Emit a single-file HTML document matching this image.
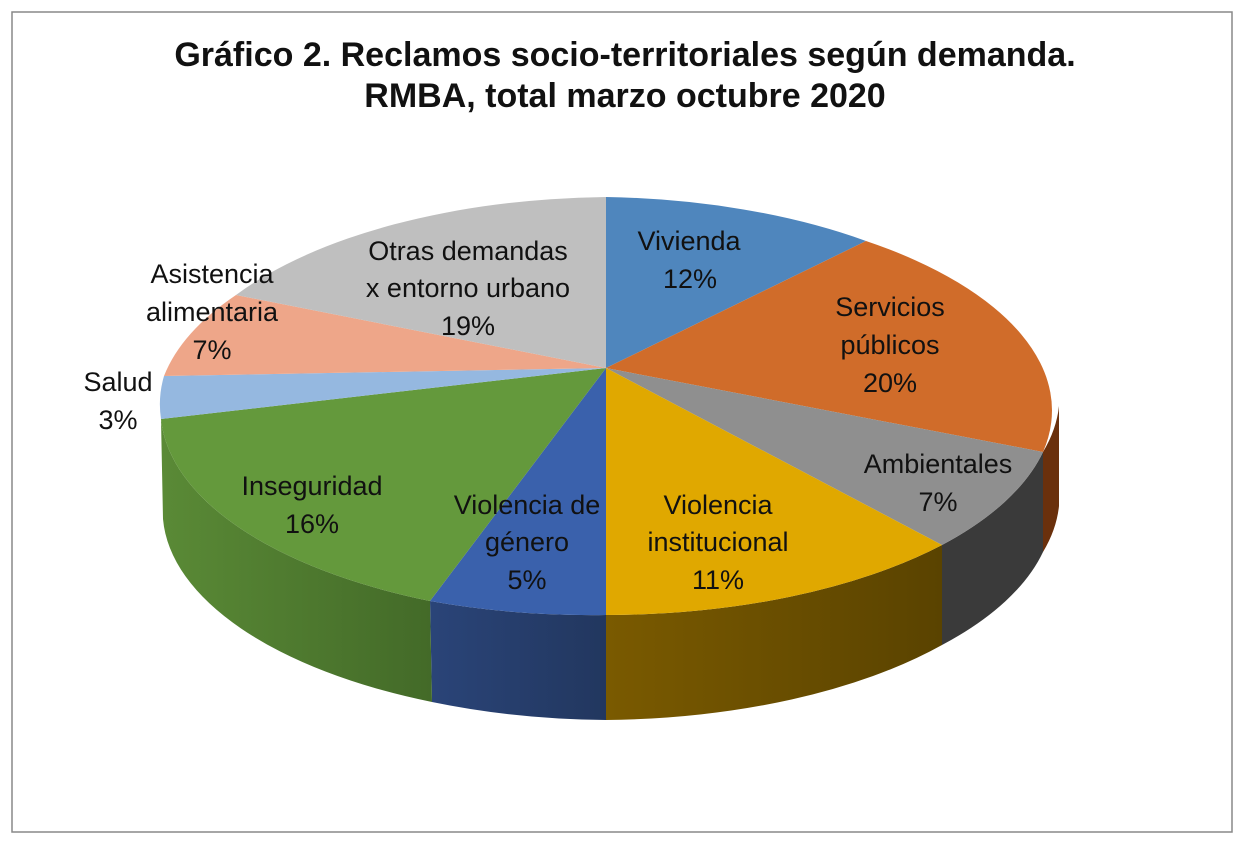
<!DOCTYPE html>
<html><head><meta charset="utf-8"><style>
body{margin:0;background:#fff;}
svg text{font-family:"Liberation Sans Narrow","Liberation Sans",sans-serif;font-size:27px;fill:#111;text-anchor:middle;}
svg text.t{font-family:"Liberation Sans",sans-serif;font-weight:bold;font-size:34px;}
</style></head><body>
<svg width="1244" height="844" viewBox="0 0 1244 844" xmlns="http://www.w3.org/2000/svg">
<defs>
<linearGradient id="gG" x1="0" x2="1"><stop offset="0" stop-color="#5a8a36"/><stop offset="1" stop-color="#436a28"/></linearGradient>
<linearGradient id="gY" x1="0" x2="1"><stop offset="0" stop-color="#7a5a00"/><stop offset="1" stop-color="#5a4300"/></linearGradient>
<linearGradient id="gB" x1="0" x2="1"><stop offset="0" stop-color="#2a4478"/><stop offset="1" stop-color="#22375f"/></linearGradient>
</defs>
<rect x="12" y="12" width="1220" height="820" fill="#fff" stroke="#888" stroke-width="1.5"/>
<text class="t" x="625" y="66">Gráfico 2. Reclamos socio-territoriales según demanda.</text>
<text class="t" x="625" y="107">RMBA, total marzo octubre 2020</text>
<!-- sides -->
<path d="M1059,406 A449 209 0 0 1 1043,452 L1043,552 A449 209 0 0 0 1059,506 Z" fill="#6a300c"/>
<path d="M1043,452 A449 209 0 0 1 942,545 L942,645 A449 209 0 0 0 1043,552 Z" fill="#3a3a3a"/>
<path d="M942,545 A449 209 0 0 1 606,615 L606,720 A449 209 0 0 0 942,645 Z" fill="url(#gY)"/>
<path d="M606,615 A449 209 0 0 1 430,601 L432,702 A449 209 0 0 0 606,720 Z" fill="url(#gB)"/>
<path d="M430,601 A449 209 0 0 1 161,419 L163,519 A449 209 0 0 0 432,702 Z" fill="url(#gG)"/>
<!-- top -->
<path d="M606,368 L606,197 A449 209 0 0 1 866,241 Z" fill="#4f86bd"/>
<path d="M606,368 L866,241 A449 209 0 0 1 1043,452 Z" fill="#d06c2a"/>
<path d="M606,368 L1043,452 A449 209 0 0 1 942,545 Z" fill="#8f8f8f"/>
<path d="M606,368 L942,545 A449 209 0 0 1 606,615 Z" fill="#e0a800"/>
<path d="M606,368 L606,615 A449 209 0 0 1 430,601 Z" fill="#3a61ac"/>
<path d="M606,368 L430,601 A449 209 0 0 1 161,419 Z" fill="#64993c"/>
<path d="M606,368 L161,419 A449 209 0 0 1 164,376 Z" fill="#95b8e0"/>
<path d="M606,368 L164,376 A449 209 0 0 1 236,295 Z" fill="#eea689"/>
<path d="M606,368 L236,295 A449 209 0 0 1 606,197 Z" fill="#bfbfbf"/>
<!-- labels -->
<text x="689" y="250">Vivienda</text><text x="690" y="288">12%</text>
<text x="890" y="316">Servicios</text><text x="890" y="354">públicos</text><text x="890" y="392">20%</text>
<text x="938" y="473">Ambientales</text><text x="938" y="511">7%</text>
<text x="718" y="514">Violencia</text><text x="718" y="551">institucional</text><text x="718" y="589">11%</text>
<text x="527" y="514">Violencia de</text><text x="527" y="551">género</text><text x="527" y="589">5%</text>
<text x="312" y="495">Inseguridad</text><text x="312" y="533">16%</text>
<text x="118" y="391">Salud</text><text x="118" y="429">3%</text>
<text x="212" y="283">Asistencia</text><text x="212" y="321">alimentaria</text><text x="212" y="359">7%</text>
<text x="468" y="260">Otras demandas</text><text x="468" y="297">x entorno urbano</text><text x="468" y="335">19%</text>
</svg>
</body></html>
